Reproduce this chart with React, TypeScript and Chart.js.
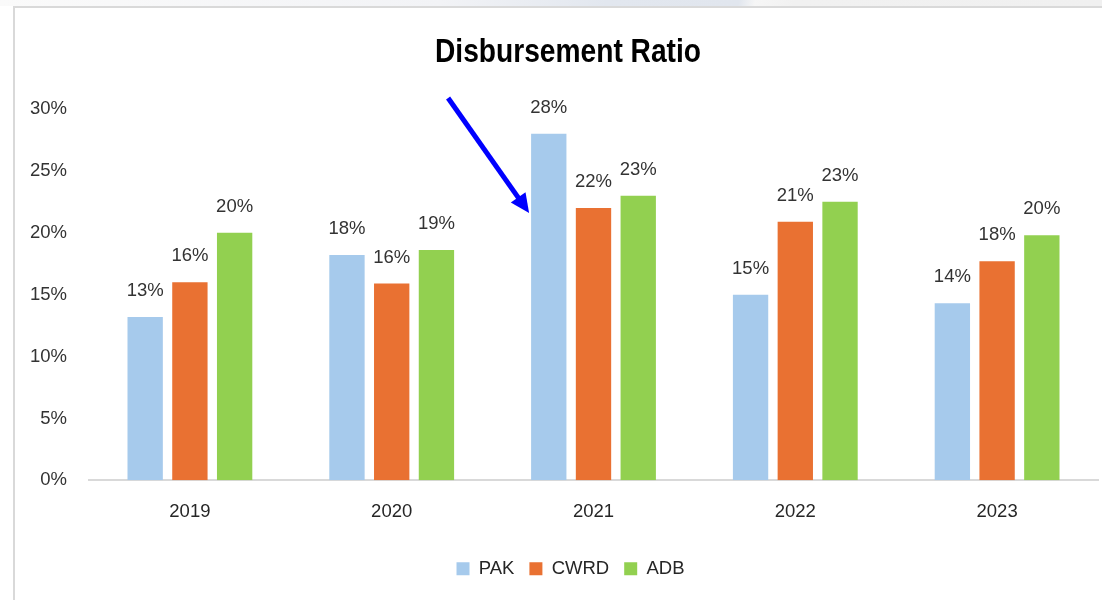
import React, { useEffect, useRef } from "react";
import { Chart, registerables } from "chart.js";

Chart.register(...registerables);

const TITLE = "Disbursement Ratio";
const CATEGORIES = ["2019", "2020", "2021", "2022", "2023"];
const SERIES_NAMES = ["PAK", "CWRD", "ADB"];
const PAK = [13.2, 18.2, 28.0, 15.0, 14.3];
const CWRD = [16.0, 15.9, 22.0, 20.9, 17.7];
const ADB = [20.0, 18.6, 23.0, 22.5, 19.8];
const COLORS = ["#A6CAEC", "#E97132", "#92D050"];
const Y_MIN = 0;
const Y_MAX = 30;
const Y_STEP = 5;
const ARROW_SERIES = 0;
const ARROW_CATEGORY = 2;
const ARROW_TIP_VALUE = 21.6;

const FONT = '"Liberation Sans", Arial, sans-serif';

const condensedTitlePlugin = {
  id: "condensedTitle",
  afterDraw(chart: any) {
    const ctx = chart.ctx;
    ctx.save();
    ctx.font = `bold 34px ${FONT}`;
    ctx.fillStyle = "#000000";
    ctx.textBaseline = "alphabetic";
    ctx.textAlign = "left";
    const w = ctx.measureText(TITLE).width;
    const targetW = 266;
    const sx = targetW / w;
    const cx = chart.width / 2 - 2;
    ctx.translate(cx - targetW / 2, 54.3);
    ctx.scale(sx, 1);
    ctx.fillText(TITLE, 0, 0);
    ctx.restore();
  },
};

const legendShiftPlugin = {
  id: "legendShift",
  afterLayout(chart: any) {
    const lg = chart.legend;
    if (!lg) return;
    lg.left += 14;
    lg.right += 14;
  },
};

const dataLabelPlugin = {
  id: "dataLabels",
  afterDatasetsDraw(chart: any) {
    const ctx = chart.ctx;
    ctx.save();
    ctx.font = `18.5px ${FONT}`;
    ctx.fillStyle = "#333333";
    ctx.textAlign = "center";
    ctx.textBaseline = "alphabetic";
    chart.data.datasets.forEach((ds: any, i: number) => {
      const meta = chart.getDatasetMeta(i);
      meta.data.forEach((bar: any, j: number) => {
        const v = ds.data[j];
        ctx.fillText(`${Math.round(v)}%`, bar.x, bar.y - 21);
      });
    });
    ctx.restore();
  },
};

const arrowPlugin = {
  id: "arrow",
  afterDatasetsDraw(chart: any) {
    const meta = chart.getDatasetMeta(ARROW_SERIES);
    const bar: any = meta.data[ARROW_CATEGORY];
    if (!bar) return;
    const yScale = chart.scales.y;
    const tipX = bar.x - bar.width / 2 - 2;
    const tipY = yScale.getPixelForValue(ARROW_TIP_VALUE);
    const startX = tipX - 81;
    const startY = tipY - 115;
    const ang = Math.atan2(tipY - startY, tipX - startX);
    const headLen = 19;
    const headHalf = 9;
    const baseX = tipX - headLen * Math.cos(ang);
    const baseY = tipY - headLen * Math.sin(ang);
    const ctx = chart.ctx;
    ctx.save();
    ctx.strokeStyle = "#0000FF";
    ctx.fillStyle = "#0000FF";
    ctx.lineWidth = 5;
    ctx.lineCap = "butt";
    ctx.beginPath();
    ctx.moveTo(startX, startY);
    ctx.lineTo(baseX + 2 * Math.cos(ang), baseY + 2 * Math.sin(ang));
    ctx.stroke();
    ctx.beginPath();
    ctx.moveTo(tipX, tipY);
    ctx.lineTo(baseX - headHalf * Math.sin(ang), baseY + headHalf * Math.cos(ang));
    ctx.lineTo(baseX + headHalf * Math.sin(ang), baseY - headHalf * Math.cos(ang));
    ctx.closePath();
    ctx.fill();
    ctx.restore();
  },
};

export default function App() {
  const canvasRef = useRef<HTMLCanvasElement | null>(null);

  useEffect(() => {
    if (!canvasRef.current) return;
    const seriesData = [PAK, CWRD, ADB];
    const chart = new Chart(canvasRef.current, {
      type: "bar",
      data: {
        labels: CATEGORIES,
        datasets: SERIES_NAMES.map((name, i) => ({
          label: name,
          data: seriesData[i],
          backgroundColor: COLORS[i],
          borderWidth: 0,
          categoryPercentage: 0.665,
          barPercentage: 0.79,
        })),
      },
      options: {
        animation: false,
        responsive: false,
        maintainAspectRatio: false,
        layout: { padding: { left: 0, right: 27, top: 0, bottom: 12 } },
        plugins: {
          title: {
            display: true,
            text: TITLE,
            color: "rgba(0,0,0,0)",
            font: { family: FONT, size: 30, weight: "bold" },
            padding: { top: 26, bottom: 39 },
          },
          legend: {
            position: "bottom",
            labels: {
              boxWidth: 13,
              boxHeight: 13,
              padding: 15,
              color: "#262626",
              font: { family: FONT, size: 18.5 },
            },
          },
          tooltip: { enabled: false },
        },
        scales: {
          x: {
            grid: { display: false, drawTicks: false },
            border: { display: true, color: "#D9D9D9", width: 2 },
            ticks: {
              color: "#262626",
              font: { family: FONT, size: 18.5 },
              padding: 21,
            },
          },
          y: {
            min: Y_MIN,
            max: Y_MAX,
            grid: { display: false, drawTicks: false },
            border: { display: false },
            ticks: {
              stepSize: Y_STEP,
              color: "#333333",
              font: { family: FONT, size: 18.5 },
              padding: 22,
              callback: (v: any) => `${v}%`,
            },
            afterFit: (scale: any) => {
              scale.width = 74;
            },
          },
        },
      },
      plugins: [legendShiftPlugin, dataLabelPlugin, arrowPlugin, condensedTitlePlugin],
    });
    return () => chart.destroy();
  }, []);

  return (
    <div
      style={{
        position: "fixed",
        left: 0,
        top: 0,
        width: 1102,
        height: 600,
        overflow: "hidden",
        background: "#FFFFFF",
      }}
    >
      <div
        style={{
          position: "absolute",
          left: 0,
          top: 0,
          width: 1102,
          height: 6,
          background:
            "linear-gradient(100deg, #FAFAFA 0%, #F2F3F6 40%, #E2E7EF 55%, #E1E6EE 67%, #F6F6F6 68.5%, #F1F1F1 72%, #F0F0F0 100%)",
        }}
      />
      <div style={{ position: "absolute", left: 13, top: 6, width: 1089, height: 2, background: "#D9D9D9" }} />
      <div style={{ position: "absolute", left: 13, top: 6, width: 2, height: 594, background: "#D9D9D9" }} />
      <canvas
        ref={canvasRef}
        width={1110}
        height={592}
        style={{ position: "absolute", left: 15, top: 8, width: 1110, height: 592 }}
      />
    </div>
  );
}
